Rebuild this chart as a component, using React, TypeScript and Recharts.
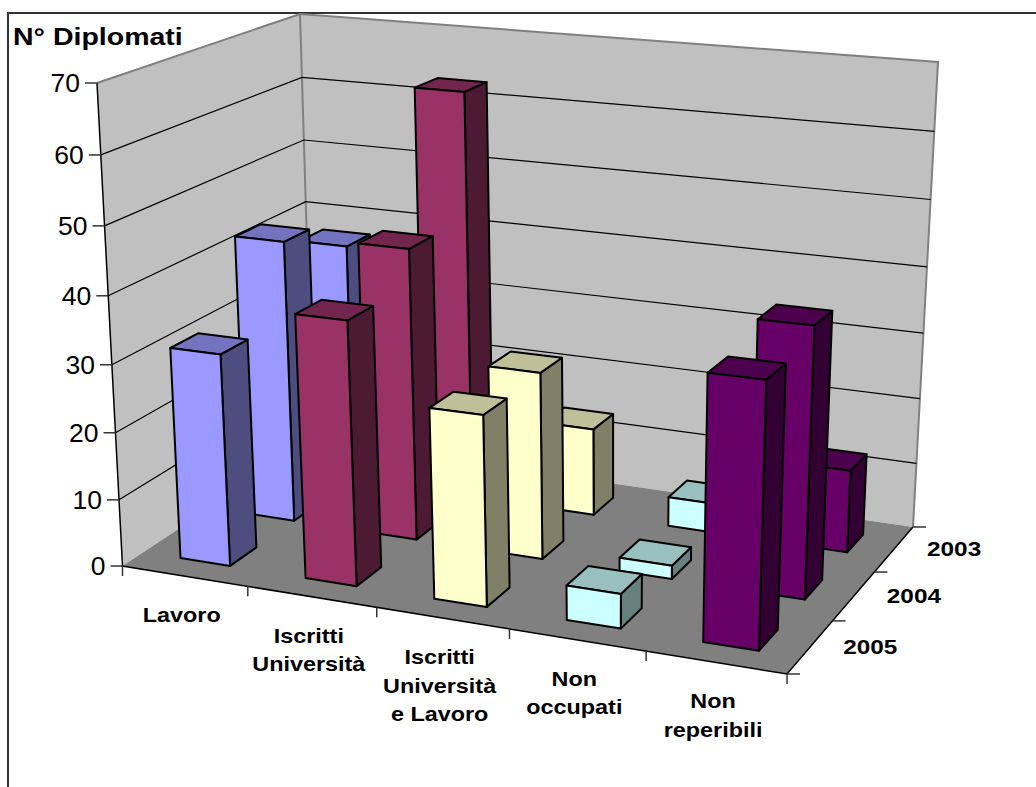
import React from "react";
import { BarChart, Bar, XAxis, YAxis, CartesianGrid, Customized } from "recharts";

const categories = ["Lavoro", "Iscritti\nUniversità", "Iscritti\nUniversità\ne Lavoro", "Non\noccupati", "Non\nreperibili"];
const years = ["2003", "2004", "2005"];
const values2003 = [37.5, 63, 13.5, 4.5, 12.5];
const values2004 = [43, 44, 28, 2, 39.5];
const values2005 = [31.5, 38.7, 27.7, 5, 37.5];
const yTicks = [0, 10, 20, 30, 40, 50, 60, 70];
const catColors = ["#9999FF", "#993366", "#FFFFCC", "#CCFFFF", "#660066"];

const data = categories.map((name, i) => ({
  name,
  y2003: values2003[i],
  y2004: values2004[i],
  y2005: values2005[i],
}));

// flat plot area that recharts lays out, everything gets projected from it
const L = 100;
const T = 100;
const W = 500;
const H = 350;
const FONT = "'Liberation Sans', Arial, sans-serif";

type Pt = number[];

// maps the unit square on a quad (perspective)
function quadMap(p0: Pt, p1: Pt, p2: Pt, p3: Pt) {
  const dx1 = p1[0] - p2[0], dx2 = p3[0] - p2[0], sx = p0[0] - p1[0] + p2[0] - p3[0];
  const dy1 = p1[1] - p2[1], dy2 = p3[1] - p2[1], sy = p0[1] - p1[1] + p2[1] - p3[1];
  const den = dx1 * dy2 - dx2 * dy1;
  const g = (sx * dy2 - dx2 * sy) / den;
  const h = (dx1 * sy - sx * dy1) / den;
  const a = p1[0] - p0[0] + g * p1[0], b = p3[0] - p0[0] + h * p3[0];
  const d = p1[1] - p0[1] + g * p1[1], e = p3[1] - p0[1] + h * p3[1];
  return (u: number, w: number) => {
    const q = g * u + h * w + 1;
    return [(a * u + b * w + p0[0]) / q, (d * u + e * w + p0[1]) / q];
  };
}

const floorAt = quadMap([122.5, 566], [787, 674], [913, 527], [313, 440]);
const roofAt = quadMap([97, 83], [805, 147], [938, 62], [300, 14]);

// u along categories, v height 0..1, w depth 0..1 (0 = front)
function project(u: number, v: number, w: number) {
  const f = floorAt(u, w);
  const t = roofAt(u, w);
  const s = v / (v + (1 - v) * 1.05);
  return [f[0] + (t[0] - f[0]) * s, f[1] + (t[1] - f[1]) * s];
}

const toU = (x: number) => (x - L) / W;
const toV = (y: number) => (T + H - y) / H;
const pts = (list: Pt[]) => list.map((p) => p[0].toFixed(1) + "," + p[1].toFixed(1)).join(" ");

function shade(hex: string, k: number) {
  const n = parseInt(hex.slice(1), 16);
  const c = [(n >> 16) & 255, (n >> 8) & 255, n & 255].map((v) => Math.round(v * k));
  return `rgb(${c[0]},${c[1]},${c[2]})`;
}

function Label({ x, y, size, sx, bold, anchor, children }: any) {
  return (
    <text
      transform={`translate(${x} ${y}) scale(${sx} 1)`}
      textAnchor={anchor || "middle"}
      fontFamily={FONT}
      fontSize={size}
      fontWeight={bold ? "bold" : "normal"}
      fill="#000"
    >
      {children}
    </text>
  );
}

// one 3d box, row 0 is the front row
const Box3D = (row: number) => (props: any) => {
  const { x, y, width, index } = props;
  const u0 = toU(x), u1 = toU(x + width), v = toV(y);
  const w0 = (row + 0.3) / 3, w1 = (row + 0.7) / 3;
  const color = catColors[index];
  const edge = { stroke: "#000", strokeWidth: 2, strokeLinejoin: "round" as const };
  return (
    <g>
      <polygon points={pts([project(u1, 0, w0), project(u1, 0, w1), project(u1, v, w1), project(u1, v, w0)])} fill={shade(color, 0.5)} {...edge} />
      <polygon points={pts([project(u0, v, w0), project(u1, v, w0), project(u1, v, w1), project(u0, v, w1)])} fill={shade(color, 0.75)} {...edge} />
      <polygon points={pts([project(u0, 0, w0), project(u1, 0, w0), project(u1, v, w0), project(u0, v, w0)])} fill={color} {...edge} />
    </g>
  );
};

// walls, floor, frame, title and the depth axis
const Backdrop = () => {
  const grayEdge = { stroke: "#808080", strokeWidth: 2 };
  return (
    <g>
      <polyline points="8,787 8,13 1036,13" fill="none" stroke="#333" strokeWidth={2} />
      <Label x={13} y={45} size={23} sx={1.24} bold anchor="start">N° Diplomati</Label>
      <polygon points={pts([project(0, 0, 0), project(0, 1, 0), project(0, 1, 1), project(0, 0, 1)])} fill="#C0C0C0" />
      <polygon points={pts([project(0, 0, 1), project(0, 1, 1), project(1, 1, 1), project(1, 0, 1)])} fill="#C0C0C0" />
      <polygon points={pts([project(0, 0, 0), project(1, 0, 0), project(1, 0, 1), project(0, 0, 1)])} fill="#808080" />
      <polyline points={pts([project(0, 1, 0), project(0, 1, 1), project(1, 1, 1), project(1, 0, 1)])} fill="none" {...grayEdge} />
      <polyline points={pts([project(0, 1, 1), project(0, 0, 1)])} fill="none" {...grayEdge} />
      <polyline points={pts([project(0, 1, 0), project(0, 0, 0), project(1, 0, 0), project(1, 0, 1)])} fill="none" stroke="#000" strokeWidth={1.5} />
      {[0, 1, 2, 3].map((r) => {
        const p = project(1, 0, r / 3);
        return <line key={r} x1={p[0]} y1={p[1]} x2={p[0] + 13} y2={p[1]} stroke="#333" strokeWidth={1.5} />;
      })}
      {years.map((label, i) => {
        const p = project(1, 0, (2 - i + 0.5) / 3);
        return <Label key={label} x={p[0] + 60} y={p[1] + 7} size={21} sx={1.16} bold>{label}</Label>;
      })}
    </g>
  );
};

const gridLine = (props: any) => {
  const v = toV(props.y1);
  if (v < 0.001 || v > 0.999) return <g key={props.key} />;
  return <polyline key={props.key} points={pts([project(0, v, 0), project(0, v, 1), project(1, v, 1)])} fill="none" stroke="#000" strokeWidth={1.2} />;
};

const YTick = (props: any) => {
  const p = project(0, toV(props.y), 0);
  return (
    <g>
      <line x1={p[0] - 12} y1={p[1]} x2={p[0]} y2={p[1]} stroke="#333" strokeWidth={1.5} />
      <Label x={p[0] - 17} y={p[1] + 9} size={25} sx={1.06} anchor="end">{props.payload.value}</Label>
    </g>
  );
};

const XTick = (props: any) => {
  const u = toU(props.x);
  const band = 1 / categories.length;
  const base = project(u, 0, 0);
  const marks = [project(u + band / 2, 0, 0)];
  if (props.index === 0) marks.push(project(u - band / 2, 0, 0));
  return (
    <g>
      {marks.map((m, i) => (
        <line key={i} x1={m[0]} y1={m[1]} x2={m[0]} y2={m[1] + 10} stroke="#333" strokeWidth={1.5} />
      ))}
      {String(props.payload.value).split("\n").map((line, i) => (
        <Label key={i} x={base[0] - 3} y={base[1] + 46 + i * 28.5} size={20} sx={1.17} bold>{line}</Label>
      ))}
    </g>
  );
};

export default function App() {
  return (
    <div style={{ position: "absolute", left: 0, top: 0, width: 1036, height: 787 }}>
      <BarChart
        width={1036}
        height={787}
        data={data}
        margin={{ top: T, left: L - 1, right: 1036 - L - W, bottom: 787 - T - H - 1 }}
        barSize={40}
        barGap={-40}
      >
        <Customized component={Backdrop} />
        <CartesianGrid vertical={false} horizontal={gridLine} zIndex={1} />
        <XAxis dataKey="name" height={1} interval={0} axisLine={false} tickLine={false} tick={XTick} />
        <YAxis width={1} domain={[0, 70]} ticks={yTicks} interval={0} axisLine={false} tickLine={false} tick={YTick} />
        <Bar dataKey="y2003" isAnimationActive={false} shape={Box3D(2)} />
        <Bar dataKey="y2004" isAnimationActive={false} shape={Box3D(1)} />
        <Bar dataKey="y2005" isAnimationActive={false} shape={Box3D(0)} />
      </BarChart>
    </div>
  );
}
